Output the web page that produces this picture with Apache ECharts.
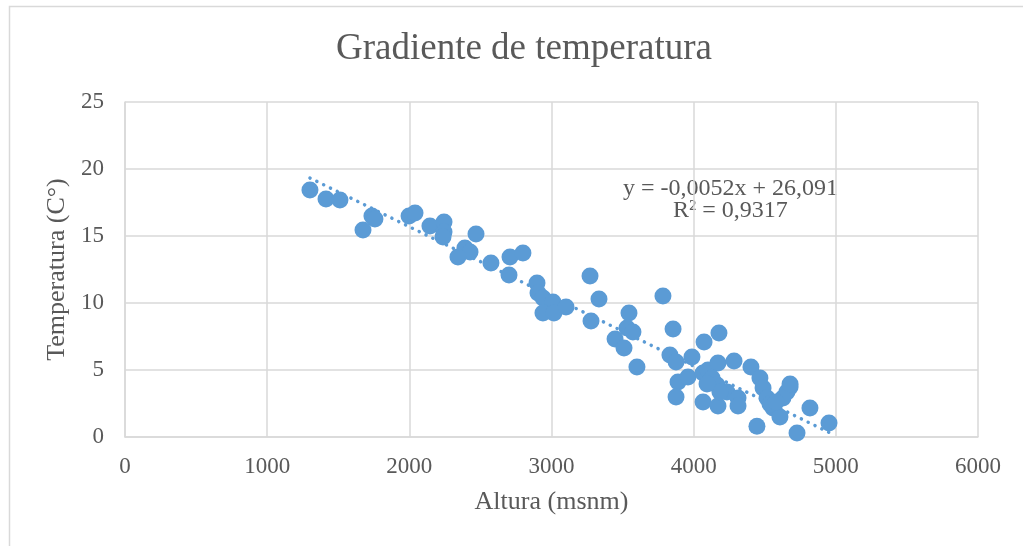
<!DOCTYPE html>
<html>
<head>
<meta charset="utf-8">
<script src="https://cdn.jsdelivr.net/npm/echarts@6/dist/echarts.min.js"></script>
<style>
  html, body { margin: 0; padding: 0; background: #fff; }
  #main { width: 1023px; height: 546px; }
</style>
</head>
<body>
<div id="main"></div>
<script>
// altitude (msnm) of each station
var altura = [
  1301, 1414, 1512, 1737, 1758, 1674, 1998, 2040, 2145, 2244,
  2244, 2237, 2469, 2391, 2427, 2342, 2574, 2708, 2799, 2701,
  2898, 2905, 2940, 3010, 2940, 3017, 3102, 3271, 3334, 3278,
  3545, 3531, 3573, 3447, 3510, 3601, 3784, 3855, 4073, 4178,
  3833, 3876, 3988, 3890, 3876, 3960, 4066, 4101, 4171, 4284,
  4066, 4171, 4129, 4164, 4234, 4312, 4312, 4403, 4466, 4488,
  4516, 4558, 4607, 4678, 4656, 4628, 4445, 4727, 4818, 4952,
  4185, 4094, 4537, 4579, 4678
];
// temperature (C°) of each station
var temperatura = [
  18.43, 17.76, 17.69, 16.49, 16.27, 15.45, 16.49, 16.72, 15.75, 16.04,
  15.30, 14.93, 15.15, 14.10, 13.81, 13.43, 12.99, 13.43, 13.73, 12.09,
  11.49, 10.75, 10.37, 10.07, 9.25, 9.25, 9.70, 12.01, 10.30, 8.66,
  9.25, 8.13, 7.84, 7.31, 6.64, 5.22, 10.52, 8.06, 7.09, 7.76,
  6.12, 5.60, 5.97, 4.10, 2.99, 4.48, 4.78, 5.00, 5.52, 5.67,
  2.61, 2.31, 4.40, 3.88, 3.36, 2.91, 2.31, 5.22, 4.40, 3.66,
  2.91, 2.16, 1.49, 3.73, 3.36, 2.91, 0.80, 0.30, 2.16, 1.04,
  3.36, 3.96, 2.46, 2.61, 3.96
];
// linear trend line shown on the chart
var pendiente = -0.0052;
var intercepto = 26.091;
var tendenciaX = [1301, 4952];
var ecuacion = ['y = -0,0052x + 26,091', 'R² = 0,9317'];

var xTicks = [0, 1000, 2000, 3000, 4000, 5000, 6000];
var yTicks = [0, 5, 10, 15, 20, 25];

var puntos = altura.map(function (a, i) { return [a, temperatura[i]]; });
var tendencia = tendenciaX.map(function (a) { return [a, pendiente * a + intercepto]; });

var fuente = '"Liberation Serif", "DejaVu Serif", serif';
var gris = '#595959';
var linea = '#D9D9D9';

var chart = echarts.init(document.getElementById('main'));
var option = {
  animation: false,
  backgroundColor: '#fff',
  title: {
    text: 'Gradiente de temperatura',
    left: 331,
    top: 26,
    textStyle: { fontFamily: fuente, fontSize: 37, fontWeight: 'normal', color: gris }
  },
  grid: { left: 125, right: 45, top: 102, bottom: 109 },
  xAxis: {
    type: 'value',
    min: xTicks[0],
    max: xTicks[xTicks.length - 1],
    interval: 1000,
    name: 'Altura (msnm)',
    nameLocation: 'middle',
    nameGap: 52,
    nameTextStyle: { fontFamily: fuente, fontSize: 26, color: gris },
    axisLine: { show: true, lineStyle: { color: linea, width: 1.5 } },
    axisTick: { show: false },
    axisLabel: { fontFamily: fuente, fontSize: 23, color: gris, margin: 18,
      formatter: function (v) { return String(v); } },
    splitLine: { show: true, lineStyle: { color: linea, width: 1.5 } }
  },
  yAxis: {
    type: 'value',
    min: yTicks[0],
    max: yTicks[yTicks.length - 1],
    interval: 5,
    name: 'Temperatura (C°)',
    nameLocation: 'middle',
    nameGap: 50,
    nameTextStyle: { fontFamily: fuente, fontSize: 26, color: gris },
    axisLine: { show: true, lineStyle: { color: linea, width: 1.5 } },
    axisTick: { show: false },
    axisLabel: { fontFamily: fuente, fontSize: 23, color: gris, margin: 21 },
    splitLine: { show: true, lineStyle: { color: linea, width: 1.5 } }
  },
  graphic: [
    {
      type: 'rect',
      shape: { x: 9.5, y: 6.5, width: 1030, height: 560 },
      style: { fill: 'none', stroke: linea, lineWidth: 1.5 },
      z: -10
    },
    {
      type: 'text',
      left: 623, top: 177,
      style: { text: ecuacion[0], font: '24px ' + fuente, fill: gris }
    },
    {
      type: 'text',
      left: 673, top: 199,
      style: { text: ecuacion[1], font: '24px ' + fuente, fill: gris }
    }
  ],
  series: [
    {
      type: 'scatter',
      data: puntos,
      symbolSize: 17,
      itemStyle: { color: '#5B9BD5', opacity: 1 },
      z: 3
    },
    {
      type: 'line',
      data: tendencia,
      showSymbol: false,
      lineStyle: { color: '#5B9BD5', width: 3.5, type: [0.1, 7.5], cap: 'round' },
      z: 2
    }
  ]
};
chart.setOption(option);
</script>
</body>
</html>
